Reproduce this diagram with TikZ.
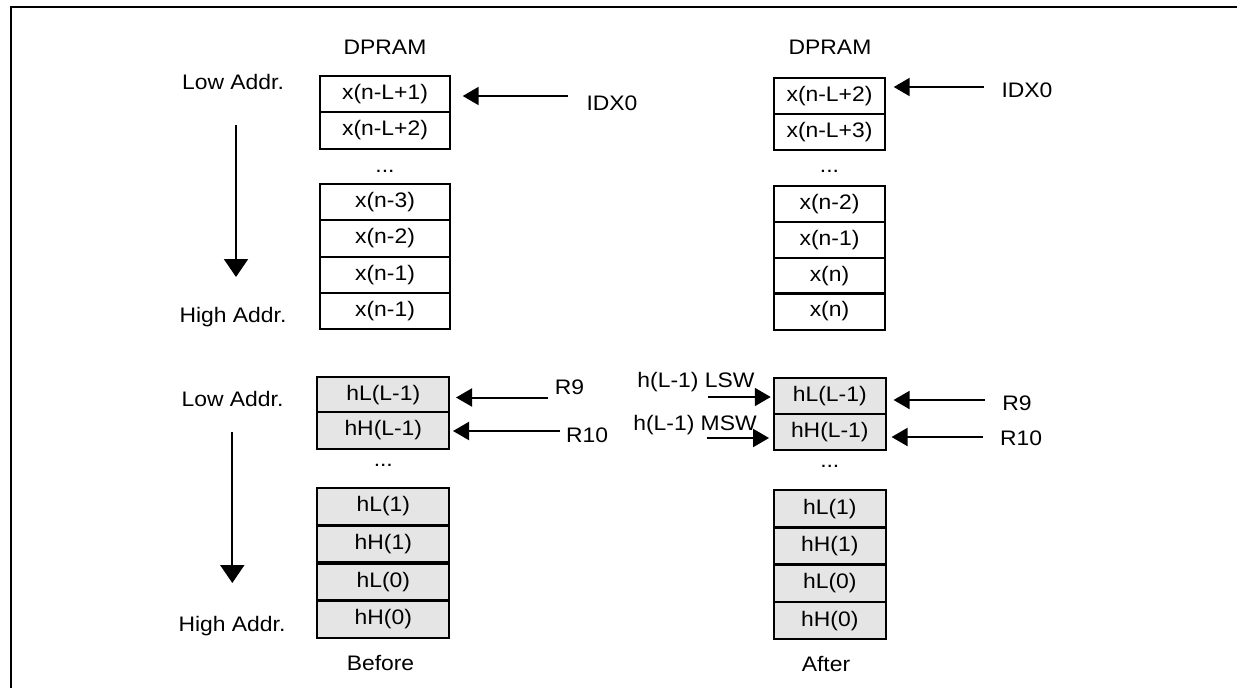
\documentclass[tikz,border=0pt]{standalone}
\usepackage{fontspec}
\setmainfont{Liberation Sans}[FakeStretch=1.09]
\usetikzlibrary{arrows.meta}
\begin{document}
\begin{tikzpicture}[x=1pt,y=-1pt,
  every node/.style={font=\fontsize{21}{25}\selectfont, inner sep=0pt},
  lbl/.style={},
  cellA/.style={draw, line width=2pt, minimum width=130pt, minimum height=36.3pt},
  cellB/.style={draw, line width=2pt, minimum width=111pt, minimum height=36.2pt},
  cellC/.style={draw, line width=2pt, fill=black!10, minimum width=132pt, minimum height=36.5pt},
  cellD/.style={draw, line width=2pt, fill=black!10, minimum width=111.5pt, minimum height=36.5pt},
  harr/.style={line width=2pt, -{Triangle[length=16pt,width=18pt]}},
  varr/.style={line width=2pt, -{Triangle[length=18pt,width=24pt]}}
]
\useasboundingbox (0,0) rectangle (1237,688);
% frame
\draw[line width=2pt] (1237,7) -- (10.5,7) -- (10.5,688);

% headers
\node[lbl] (dpA) at (385,47) {DPRAM};
\node[lbl] (dpB) at (830,47) {DPRAM};

% address labels
\node[lbl] (lo1) at (233,82) {Low Addr.};
\node[lbl] (hi1) at (233,317) {High Addr.};
\node[lbl] (lo2) at (232.5,399) {Low Addr.};
\node[lbl] (hi2) at (232,626) {High Addr.};
\coordinate (v1s) at (236,125);
\coordinate (v1e) at (236,277);
\coordinate (v2s) at (232.3,432);
\coordinate (v2e) at (232.3,583);
\draw[varr] (v1s) -- (v1e);
\draw[varr] (v2s) -- (v2e);

% top-left column
\node[cellA] (a1) at (385,94.2) {x(n-L+1)};
\node[cellA] (a2) at (385,130.5) {x(n-L+2)};
\node[lbl] (adots) at (385,171) {...};
\node[cellA] (a3) at (385,202.2) {x(n-3)};
\node[cellA] (a4) at (385,238.5) {x(n-2)};
\node[cellA] (a5) at (385,274.8) {x(n-1)};
\node[cellA] (a6) at (385,311.1) {x(n-1)};

% top-right column
\node[cellB] (b1) at (829.5,95.7) {x(n-L+2)};
\node[cellB] (b2) at (829.5,132.1) {x(n-L+3)};
\node[lbl] (bdots) at (829.5,171) {...};
\node[cellB] (b3) at (829.5,204) {x(n-2)};
\node[cellB] (b4) at (829.5,239.8) {x(n-1)};
\node[cellB] (b5) at (829.5,275.6) {x(n)};
\node[cellB] (b6) at (829.5,311.4) {x(n)};

% IDX0 arrows
\node[lbl] (idxA) at (612,103) {IDX0};
\node[lbl] (idxB) at (1027,90) {IDX0};
\coordinate (ia) at (568,96);
\coordinate (ib) at (984,87);
\draw[harr, shorten >=11.7pt] (ia) -- (ia -| a1.east);
\draw[harr, shorten >=7.7pt] (ib) -- (ib -| b1.east);

% bottom-left column
\node[cellC] (c1) at (383.3,395) {hL(L-1)};
\node[cellC] (c2) at (383.3,430.5) {hH(L-1)};
\node[lbl] (cdots) at (383.3,465) {...};
\node[cellC] (c3) at (383.3,506.5) {hL(1)};
\node[cellC] (c4) at (383.3,544.2) {hH(1)};
\node[cellC] (c5) at (383.3,581.8) {hL(0)};
\node[cellC] (c6) at (383.3,619.5) {hH(0)};
\node[lbl] (before) at (380.5,663) {Before};

% bottom-right column
\node[cellD] (d1) at (829.8,396.5) {hL(L-1)};
\node[cellD] (d2) at (829.8,431.8) {hH(L-1)};
\node[lbl] (ddots) at (829.8,466) {...};
\node[cellD] (d3) at (829.8,508.7) {hL(1)};
\node[cellD] (d4) at (829.8,546) {hH(1)};
\node[cellD] (d5) at (829.8,583.3) {hL(0)};
\node[cellD] (d6) at (829.8,620.6) {hH(0)};
\node[lbl] (after) at (826,664) {After};

% R9 / R10 arrows
\node[lbl] (r9a) at (569.5,387) {R9};
\node[lbl] (r10a) at (587,435) {R10};
\node[lbl] (r9b) at (1017,403) {R9};
\node[lbl] (r10b) at (1021,438) {R10};
\coordinate (r9at) at (548,397.5);
\coordinate (r10at) at (560,431);
\coordinate (r9bt) at (985,400);
\coordinate (r10bt) at (983,437);
\draw[harr, shorten >=5.7pt] (r9at) -- (r9at -| c1.east);
\draw[harr, shorten >=2.7pt] (r10at) -- (r10at -| c2.east);
\draw[harr, shorten >=7pt] (r9bt) -- (r9bt -| d1.east);
\draw[harr, shorten >=5pt] (r10bt) -- (r10bt -| d2.east);

% LSW / MSW arrows
\node[lbl] (lsw) at (696,382) {h(L-1) LSW};
\node[lbl] (msw) at (695,425) {h(L-1) MSW};
\coordinate (lswt) at (708,397);
\coordinate (mswt) at (707,438);
\draw[harr, shorten >=2.3pt] (lswt) -- (lswt -| d1.west);
\draw[harr, shorten >=4pt] (mswt) -- (mswt -| d2.west);
\end{tikzpicture}
\end{document}
